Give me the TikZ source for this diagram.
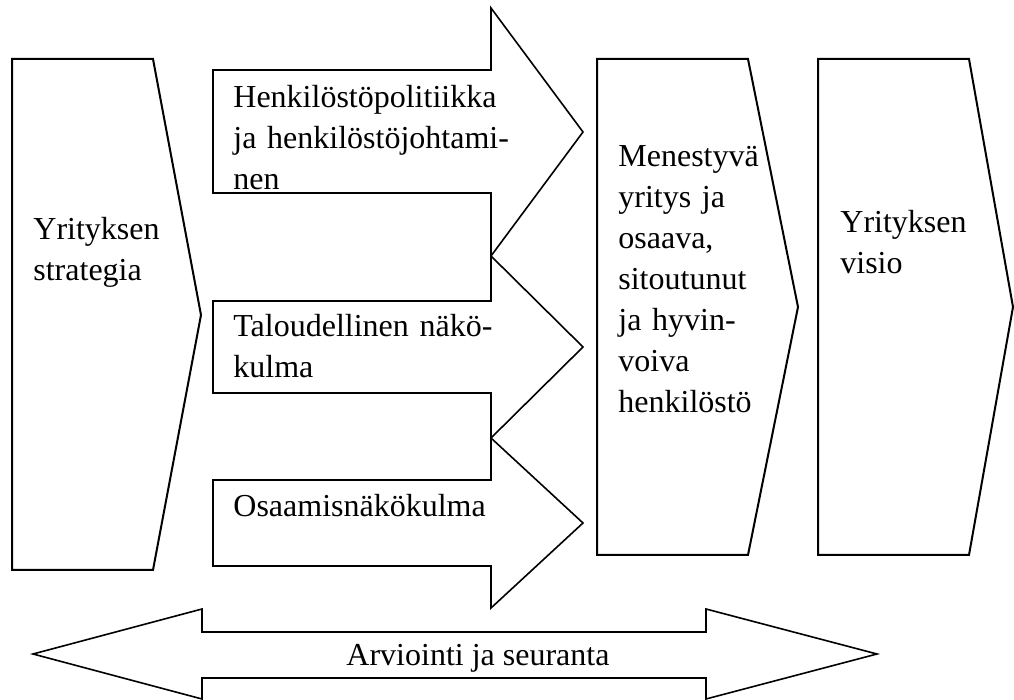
\documentclass[tikz,border=0pt]{standalone}
\usepackage{fontspec}
\setmainfont{Liberation Serif}

\begin{document}
\begin{tikzpicture}[x=0.5pt, y=-0.5pt,
  every node/.style={font=\fontsize{16}{20.5}\selectfont, inner sep=0pt, anchor=base west, align=left, text width=160pt},
  lohko/.style={draw, line width=1pt},
  nuoli/.style={draw, line width=0.8pt}]
\useasboundingbox (0,0) rectangle (1014,700);
% chevrons
\draw[lohko] (12,59) -- (153,59) -- (201,315) -- (153,570) -- (12,570) -- cycle;
\draw[lohko] (597,59) -- (748,59) -- (798,307) -- (748,555) -- (597,555) -- cycle;
\draw[lohko] (818,59) -- (969,59) -- (1013,307) -- (969,555) -- (818,555) -- cycle;
% block arrows
\draw[nuoli] (213,70) -- (491,70) -- (491,8) -- (583,132) -- (491,256) -- (491,193) -- (213,193) -- cycle;
\draw[nuoli] (213,301) -- (491,301) -- (491,256) -- (583,347) -- (491,438) -- (491,393) -- (213,393) -- cycle;
\draw[nuoli] (213,480) -- (491,480) -- (491,438) -- (583,523) -- (491,608) -- (491,566) -- (213,566) -- cycle;
\draw[nuoli] (33,654) -- (202,609) -- (202,632) -- (706,632) -- (706,609) -- (877,654)
  -- (706,699) -- (706,678) -- (202,678) -- (202,699) -- cycle;
% texts
\node (strategia) at (33,240) {Yrityksen\\strategia};
\node (hrpol) at (233,108) {Henkilöstöpolitiikka\\ja henkilöstöjohtami-\\nen};
\node (talous) at (233,337) {Taloudellinen näkö-\\kulma};
\node (osaaminen) at (233,517) {Osaamisnäkökulma};
\node (tulos) at (618,167) {Menestyvä\\yritys ja\\osaava,\\sitoutunut\\ja hyvin-\\voiva\\henkilöstö};
\node (visio) at (840,233) {Yrityksen\\visio};
\node[anchor=base, text width=] (arviointi) at (478,666) {Arviointi ja seuranta};
\end{tikzpicture}
\end{document}
